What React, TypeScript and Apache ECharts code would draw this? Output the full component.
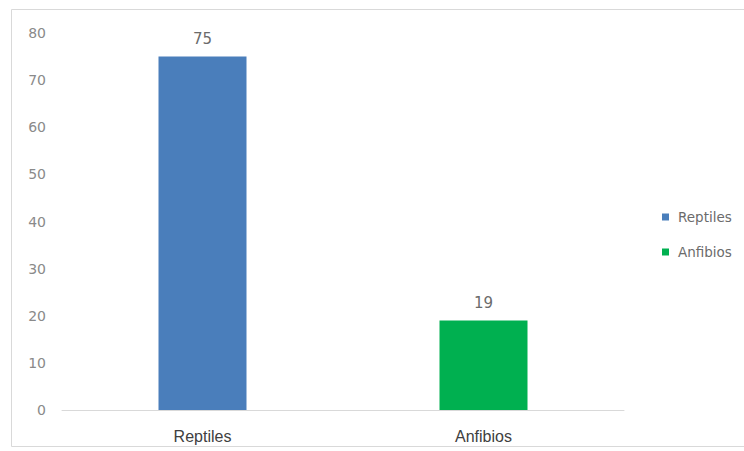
import React, { useEffect, useRef } from "react";
import * as echarts from "echarts";

const categories = ["Reptiles", "Anfibios"];
const seriesNames = ["Reptiles", "Anfibios"];
const reptilesValues: (number | string)[] = [75, "-"];
const anfibiosValues: (number | string)[] = ["-", 19];
const seriesColors = ["#4a7ebb", "#00b050"];
const yTicks = { min: 0, max: 80, interval: 10 };

export default function App() {
  const ref = useRef<HTMLDivElement>(null);

  useEffect(() => {
    if (!ref.current) return;
    const chart = echarts.init(ref.current, undefined, { renderer: "svg" });
    const valueLists = [reptilesValues, anfibiosValues];
    chart.setOption({
      animation: false,
      backgroundColor: "#ffffff",
      textStyle: { fontFamily: "'DejaVu Sans', sans-serif" },
      graphic: [
        {
          type: "rect",
          shape: { x: 11.5, y: 9.5, width: 740, height: 437 },
          style: { fill: "none", stroke: "#d9d9d9", lineWidth: 1 },
          silent: true,
        },
      ],
      grid: { left: 62, right: 120, top: 33, bottom: 41 },
      legend: {
        orient: "vertical",
        left: 657,
        top: 205,
        icon: "rect",
        itemWidth: 7,
        itemHeight: 7,
        itemGap: 21,
        data: seriesNames,
        textStyle: {
          color: "#6b6b6b",
          fontSize: 13.5,
          padding: [0, 0, 0, 4],
        },
      },
      xAxis: {
        type: "category",
        data: categories,
        axisLine: { lineStyle: { color: "#d9d9d9", width: 1 } },
        axisTick: { show: false },
        axisLabel: {
          color: "#404040",
          fontSize: 16,
          margin: 18,
          fontFamily: "'Liberation Sans', Arial, sans-serif",
        },
      },
      yAxis: {
        type: "value",
        min: yTicks.min,
        max: yTicks.max,
        interval: yTicks.interval,
        splitLine: { show: false },
        axisLine: { show: false },
        axisTick: { show: false },
        axisLabel: { color: "#8a8a8a", fontSize: 14, margin: 16 },
      },
      series: seriesNames.map((name, i) => ({
        name,
        type: "bar",
        stack: "all",
        barWidth: 88,
        data: valueLists[i],
        itemStyle: { color: seriesColors[i] },
        label: {
          show: true,
          position: "top",
          distance: 10,
          color: "#6b6b6b",
          fontSize: 15,
        },
      })),
    });
    return () => chart.dispose();
  }, []);

  return (
    <div
      ref={ref}
      style={{ position: "fixed", left: 0, top: 0, width: 744, height: 451 }}
    />
  );
}
